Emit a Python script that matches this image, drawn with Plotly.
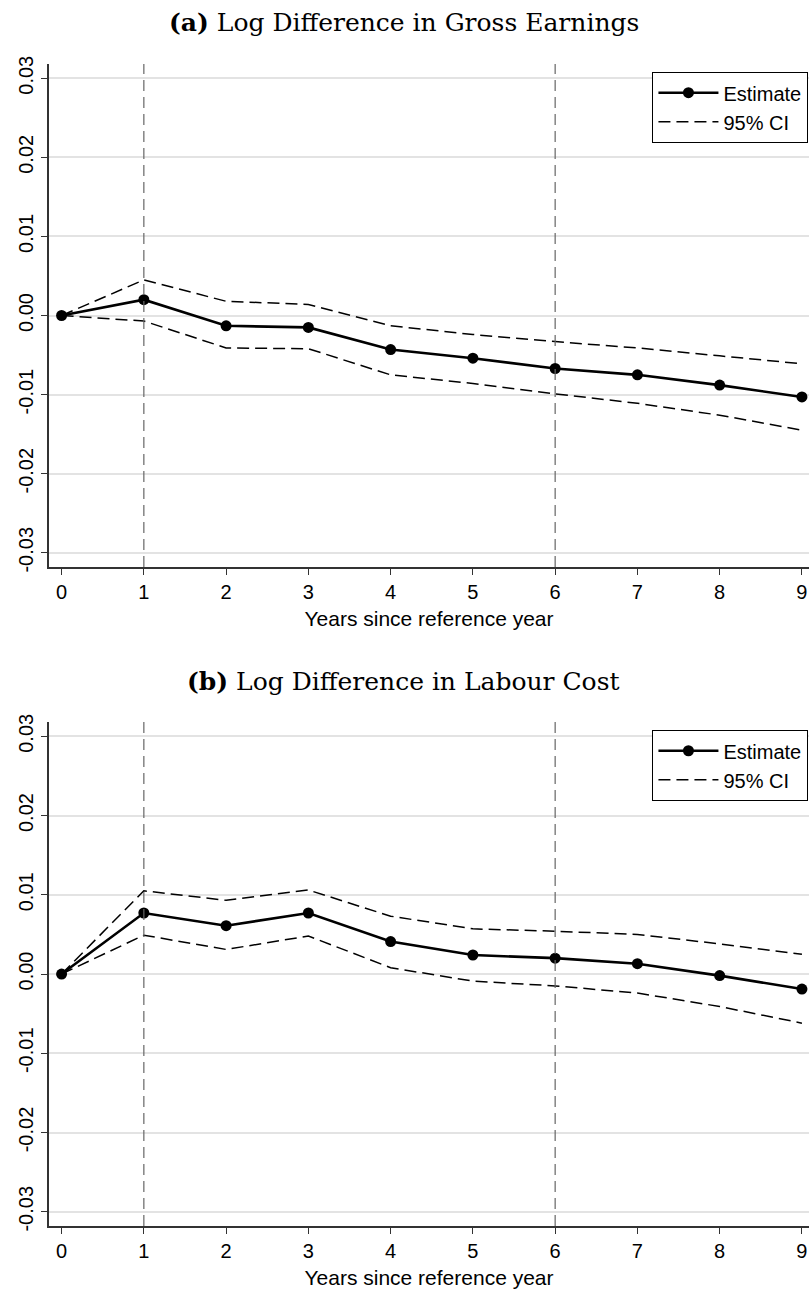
import plotly.graph_objects as go

years = [0, 1, 2, 3, 4, 5, 6, 7, 8, 9]
ref_years = [1, 6]

a_est = [0.0, 0.0020, -0.0013, -0.0015, -0.0043, -0.0054, -0.0067, -0.0075, -0.0088, -0.0103]
a_hi = [0.0, 0.0045, 0.0018, 0.0014, -0.0013, -0.0024, -0.0033, -0.0041, -0.0051, -0.0061]
a_lo = [0.0, -0.0007, -0.0041, -0.0042, -0.0075, -0.0086, -0.0099, -0.0111, -0.0126, -0.0145]

b_est = [0.0, 0.0077, 0.0061, 0.0077, 0.0041, 0.0024, 0.0020, 0.0013, -0.0002, -0.0019]
b_hi = [0.0, 0.0105, 0.0093, 0.0106, 0.0073, 0.0057, 0.0054, 0.0050, 0.0038, 0.0025]
b_lo = [0.0, 0.0049, 0.0031, 0.0048, 0.0008, -0.0009, -0.0015, -0.0024, -0.0041, -0.0062]

y_tickvals = [-0.03, -0.02, -0.01, 0.0, 0.01, 0.02, 0.03]
y_ticktext = ["-0.03", "-0.02", "-0.01", "0.00", "0.01", "0.02", "0.03"]
x_tickvals = years

titles = ["<b>(a)</b> Log Difference in Gross Earnings", "<b>(b)</b> Log Difference in Labour Cost"]
x_title = "Years since reference year"
est_name = "Estimate"
ci_name = "95% CI"

SANS = "Liberation Sans, Arial, sans-serif"
SERIF = "DejaVu Serif, Liberation Serif, serif"

fig = go.Figure()

panels = [(a_est, a_hi, a_lo, "x", "y", "legend"), (b_est, b_hi, b_lo, "x2", "y2", "legend2")]
for est, hi, lo, xa, ya, lg in panels:
    fig.add_trace(go.Scatter(x=years, y=est, mode="lines+markers", name=est_name,
                             line=dict(color="black", width=2.6),
                             marker=dict(color="black", size=11),
                             xaxis=xa, yaxis=ya, legend=lg, legendgroup=lg + "e"))
    fig.add_trace(go.Scatter(x=years, y=hi, mode="lines", name=ci_name,
                             line=dict(color="black", width=1.5, dash="12px,6px"),
                             xaxis=xa, yaxis=ya, legend=lg, legendgroup=lg + "c"))
    fig.add_trace(go.Scatter(x=years, y=lo, mode="lines", name=ci_name, showlegend=False,
                             line=dict(color="black", width=1.5, dash="12px,6px"),
                             xaxis=xa, yaxis=ya, legend=lg, legendgroup=lg + "c"))

for xa, ya in [("x", "y"), ("x2", "y2")]:
    for rx in ref_years:
        fig.add_shape(type="line", xref=xa, yref=ya + " domain", x0=rx, x1=rx, y0=0, y1=1,
                      line=dict(color="#666666", width=1.2, dash="11px,6px"), layer="above")

axis_common = dict(showline=True, linecolor="#333333", linewidth=1.5, ticks="outside",
                   ticklen=6, tickcolor="#333333", tickwidth=1.3, zeroline=False,
                   tickfont=dict(family=SANS, size=20, color="black"))

xcommon = dict(axis_common, range=[-0.153, 9.086], tickvals=x_tickvals, showgrid=False,
               title=dict(text=x_title, font=dict(family=SANS, size=21, color="black"), standoff=10))
ycommon = dict(axis_common, range=[-0.0318, 0.0318], tickvals=y_tickvals, ticktext=y_ticktext,
               tickangle=-90, showgrid=True, gridcolor="#e3e3e3", gridwidth=1.5)

fig.update_layout(
    width=809, height=1293,
    margin=dict(l=49, r=0, t=64, b=67),
    paper_bgcolor="white", plot_bgcolor="white",
    showlegend=True,
    xaxis=dict(xcommon, domain=[0, 1], anchor="y"),
    yaxis=dict(ycommon, domain=[0.5671, 1.0], anchor="x"),
    xaxis2=dict(xcommon, domain=[0, 1], anchor="y2"),
    yaxis2=dict(ycommon, domain=[0.0, 0.4337], anchor="x2"),
    legend=dict(x=0.999, y=0.9931, xanchor="right", yanchor="top", bordercolor="black",
                borderwidth=1.2, bgcolor="white", font=dict(family=SANS, size=20, color="black"),
                tracegroupgap=0, itemwidth=60),
    legend2=dict(x=0.999, y=0.4268, xanchor="right", yanchor="top", bordercolor="black",
                 borderwidth=1.2, bgcolor="white", font=dict(family=SANS, size=20, color="black"),
                 tracegroupgap=0, itemwidth=60),
)

for i, t in enumerate(titles):
    fig.add_annotation(text=t, xref="paper", yref="paper", x=0.467, y=[1.0361, 0.469][i],
                       xanchor="center", yanchor="middle", showarrow=False,
                       font=dict(family=SERIF, size=25, color="black"))

fig.write_html("out.html")
